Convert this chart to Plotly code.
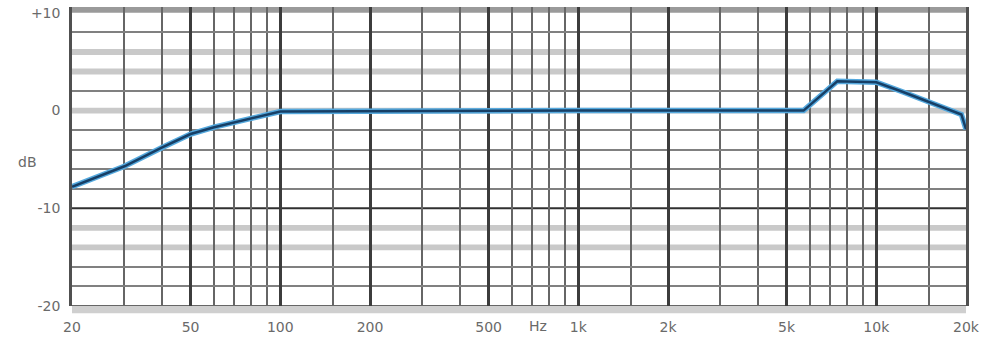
import math
import plotly.graph_objects as go

# Frequency response (dB vs Hz)
freq_hz = [20, 30, 40, 50, 60, 70, 80, 90, 100, 1000, 5700, 7400, 10000, 12300, 15000, 17900, 19300, 20000]
level_db = [-7.8, -5.7, -3.8, -2.4, -1.7, -1.2, -0.8, -0.4, -0.1, 0.0, 0.0, 3.0, 2.9, 1.9, 0.9, 0.0, -0.4, -1.9]

# Axis labelling
x_major = [20, 50, 100, 200, 500, 1000, 2000, 5000, 10000, 20000]
x_major_text = ["20", "50", "100", "200", "500", "1k", "2k", "5k", "10k", "20k"]
x_minor = [30, 40, 60, 70, 80, 90, 150, 300, 400, 600, 700, 800, 900, 1500,
           3000, 4000, 6000, 7000, 8000, 9000, 15000]
y_ticks = [10, 0, -10, -20]
y_tick_text = ["+10", "0", "-10", "-20"]
y_thin = [8, 2, -2, -4, -6, -8, -16, -18]
y_bands = [6, 4, 0, -12, -14]

fig = go.Figure()

# light halo + dark core of the response curve
fig.add_trace(go.Scatter(x=freq_hz, y=level_db, mode="lines",
                         line=dict(color="#55a9de", width=5.5), hoverinfo="skip"))
fig.add_trace(go.Scatter(x=freq_hz, y=level_db, mode="lines",
                         line=dict(color="#173f66", width=2.5)))

shapes = []
# wide light-grey bands
for yv in y_bands:
    shapes.append(dict(type="rect", xref="paper", x0=0, x1=1, yref="y",
                       y0=yv - 0.3, y1=yv + 0.3, fillcolor="#c9c9c9",
                       line=dict(width=0), layer="below"))
# top border band
shapes.append(dict(type="rect", xref="paper", x0=0, x1=1, yref="y",
                   y0=10, y1=10.6, fillcolor="#9a9a9a",
                   line=dict(width=0), layer="below"))
# bottom border band
shapes.append(dict(type="rect", xref="paper", x0=0, x1=1, yref="paper",
                   y0=-0.024, y1=0, fillcolor="#cfcfcf",
                   line=dict(width=0), layer="below"))
# heavy -10 dB and -20 dB lines
shapes.append(dict(type="line", xref="paper", x0=0, x1=1, yref="y", y0=-10, y1=-10,
                   line=dict(color="#303030", width=2), layer="between"))
shapes.append(dict(type="line", xref="paper", x0=0, x1=1, yref="y", y0=-20, y1=-20,
                   line=dict(color="#666666", width=2), layer="between"))

fig.update_layout(
    width=985, height=337,
    margin=dict(l=72, r=19, t=7, b=31),
    paper_bgcolor="white", plot_bgcolor="white",
    showlegend=False,
    shapes=shapes,
    font=dict(family="DejaVu Sans", size=14, color="#6a6a6a"),
    annotations=[
        dict(text="dB", xref="paper", yref="paper", x=-0.050, y=0.482,
             showarrow=False, xanchor="center", yanchor="middle",
             font=dict(size=14, color="#6a6a6a")),
        dict(text="Hz", xref="x", yref="paper", x=math.log10(733), y=-0.066,
             showarrow=False, xanchor="center", yanchor="middle",
             font=dict(size=14, color="#6a6a6a")),
    ],
)

fig.update_xaxes(
    type="log", automargin=False,
    range=[math.log10(20), math.log10(20000)],
    tickmode="array", tickvals=x_major, ticktext=x_major_text,
    showgrid=True, gridcolor="#3c3c3c", gridwidth=2.5,
    ticks="outside", ticklen=8, tickcolor="rgba(0,0,0,0)",
    minor=dict(tickmode="array", tickvals=x_minor, showgrid=True,
               gridcolor="#666666", gridwidth=1.7, ticks=""),
    showline=False, zeroline=False,
)

fig.update_yaxes(
    automargin=False,
    range=[-20, 10.6],
    tickmode="array", tickvals=y_ticks, ticktext=y_tick_text,
    showgrid=False, zeroline=False,
    ticks="outside", ticklen=6, tickcolor="rgba(0,0,0,0)",
    minor=dict(tickmode="array", tickvals=y_thin, showgrid=True,
               gridcolor="#808080", gridwidth=1.7, ticks=""),
    showline=True, linecolor="#505050", linewidth=2.5, mirror=True,
)

fig.write_html("out.html")
